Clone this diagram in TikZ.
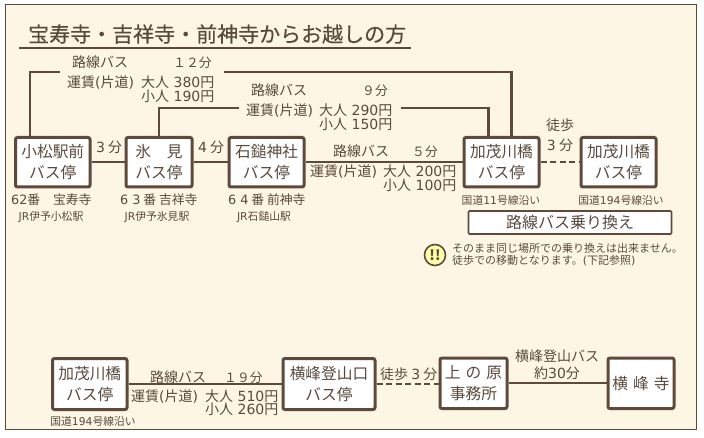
\documentclass[tikz,border=0pt]{standalone}
\usepackage{fontspec}
\setmainfont{Noto Sans CJK JP}
\newfontfamily\lat{DejaVu Sans}
\newfontfamily\titlef[FakeBold=0.35]{Noto Sans CJK JP}
\definecolor{br}{HTML}{5E4A3D}
\definecolor{tx}{HTML}{5A4A3E}
\definecolor{cream}{HTML}{FDF6E4}
\definecolor{warn}{HTML}{FFFFA8}
\newcommand{\yen}[1]{{\lat\ #1}円}
\tikzset{
  stopbox/.style={draw=br,line width=3pt,fill=white,rounded corners=2pt,inner sep=0pt,align=center,text=tx,font=\fontsize{15.7}{20.5}\selectfont},
  lab/.style={text=tx,inner sep=0pt,font=\fontsize{14}{15}\selectfont,anchor=west,text height=11pt,text depth=0pt},
  fare/.style={text=tx,inner sep=0pt,anchor=west,align=left,font=\fontsize{14}{15}\selectfont},
  timelab/.style={lab,font=\fontsize{12.8}{15}\selectfont},
  clab/.style={text=tx,inner sep=0pt,font=\fontsize{14}{15}\selectfont,align=center},
  stat/.style={lab,font=\fontsize{12.8}{14}\selectfont},
  rail/.style={text=tx,inner sep=0pt,font=\fontsize{10.8}{12}\selectfont},
  small/.style={text=tx,inner sep=0pt,font=\fontsize{11}{13}\selectfont},
  link/.style={draw=br,line width=2.2pt},
  walk/.style={draw=br,line width=2.2pt,dash pattern=on 6pt off 3.5pt}
}
\newcommand{\boxat}[7][]{\node[stopbox,minimum width=#5 pt-#3 pt,minimum height=#6 pt-#4 pt,#1] (#2) at ({(#3+#5)/2},{(#4+#6)/2}) {#7};}
\begin{document}
\begin{tikzpicture}[x=1pt,y=-1pt]
\useasboundingbox (0,0) rectangle (704,438);
\fill[white] (0,0) rectangle (704,438);
\draw[draw=br,line width=1pt,fill=cream] (5.5,4.5) rectangle (696,429.5);
% title
\node[lab,text height=18pt,font=\fontsize{21}{24}\titlef\selectfont] (title) at (28,33) {宝寿寺・吉祥寺・前神寺からお越しの方};
\coordinate (ulA) at (19,48); \coordinate (ulB) at (411,48);
\draw[draw=br,line width=1.6pt] (ulA) -- (ulB);
% boxes row 1
\boxat{komatsu}{15.5}{137.5}{90}{187}{小松駅前\\バス停}
\boxat{himi}{126}{137.5}{192}{187}{氷　見\\バス停}
\boxat{ishi}{229}{137.5}{304}{187}{石鎚神社\\バス停}
\boxat{kamoA}{464}{137.5}{539}{187}{加茂川橋\\バス停}
\boxat{kamoB}{581}{137.5}{656}{187}{加茂川橋\\バス停}
% boxes row 2
\boxat{kamoC}{52.5}{358.5}{127}{409.5}{加茂川橋\\バス停}
\boxat{yokoguchi}{283}{358.5}{375}{409.5}{横峰登山口\\バス停}
\boxat{uenohara}{440}{358}{507}{408.5}{上\hspace{5pt}の\hspace{5pt}原\\事務所}
\boxat{yokodera}{608}{358}{674}{408.5}{横\hspace{5pt}峰\hspace{5pt}寺}
% connectors row 1
\coordinate (t1) at (60,72); \coordinate (t2) at (224,72);
\coordinate (m1) at (239,108); \coordinate (m2) at (401,108);
\draw[link] ([xshift=-22.5pt]komatsu.north) |- (t1);
\draw[link] (t2) -| ([xshift=49pt]kamoA.north west);
\draw[link] (himi.north) |- (m1);
\draw[link] (m2) -| ([xshift=26pt]kamoA.north west);
\draw[link] (komatsu.east) -- (himi.west);
\draw[link] (himi.east) -- (ishi.west);
\draw[link] (ishi.east) -- (kamoA.west);
\draw[walk] (kamoA.east) -- (kamoB.west);
% connectors row 2
\draw[link] (kamoC.east) -- (yokoguchi.west);
\draw[walk] (yokoguchi.east) -- (uenohara.west|-yokoguchi.east);
\draw[link] (uenohara.east) -- (yokodera.west);
% labels top
\node[lab] (a1) at (72,62) {路線バス};
\node[timelab] (a2) at (173,62) {１２分};
\node[lab] (a3) at (67,82.5) {運賃{\lat(}片道{\lat)}};
\node[fare] (a4) at (141,89.4) {大人\yen{380}\\[-1.5pt]小人\yen{190}};
\node[lab] (b1) at (251,90) {路線バス};
\node[timelab] (b2) at (362,90) {９分};
\node[lab] (b3) at (246,110) {運賃{\lat(}片道{\lat)}};
\node[fare] (b4) at (319,117.2) {大人\yen{290}\\[-0.5pt]小人\yen{150}};
\node[lab] (c1) at (96,147) {{\lat 3} 分};
\node[lab] (c2) at (198,147) {{\lat 4} 分};
\node[lab] (d1) at (333,151) {路線バス};
\node[timelab] (d2) at (412,151) {５分};
\node[lab] (d3) at (310,171) {運賃{\lat(}片道{\lat)}};
\node[fare] (d4) at (383,178) {大人\yen{200}\\[-1pt]小人\yen{100}};
\node[clab] (w1) at (560,125) {徒歩};
\node[clab] (w2) at (560,145) {{\lat 3} 分};
% under boxes
\node[stat] (s1) at (11,199) {{\lat 62}番　宝寿寺};
\node[stat] (s2) at (120,199) {{\lat 6 3} 番 吉祥寺};
\node[stat] (s3) at (228,199.5) {{\lat 6 4} 番 前神寺};
\node[rail] (r1) at (51,217) {{\lat JR}伊予小松駅};
\node[rail] (r2) at (157,217) {{\lat JR}伊予氷見駅};
\node[rail] (r3) at (264,217) {{\lat JR}石鎚山駅};
\node[small,font=\fontsize{10.8}{13}\selectfont] (k1) at (501,200) {国道{\lat 11}号線沿い};
\node[small,font=\fontsize{10.8}{13}\selectfont] (k2) at (621,200) {国道{\lat 194}号線沿い};
% transfer
\node[draw=br,line width=1.6pt,fill=white,rounded corners=1pt,minimum width=203pt,minimum height=23pt,inner sep=0pt,text=tx,font=\fontsize{16}{18}\selectfont] (norikae) at (570,222.5) {路線バス乗り換え};
% note
\node[circle,draw=br,line width=1.6pt,fill=warn,minimum size=21pt,inner sep=0pt,text=br,font=\fontsize{14}{14}\bfseries\selectfont] (warnicon) at (435,255) {!!};
\node[small,anchor=west] (n1) at (452,248) {そのまま同じ場所での乗り換えは出来ません。};
\node[small,anchor=west] (n2) at (452,261) {徒歩での移動となります。{\lat (}下記参照{\lat )}};
% bottom labels
\node[lab] (e1) at (150,377) {路線バス};
\node[timelab] (e2) at (224,377) {１９分};
\node[lab] (e3) at (131,396) {運賃{\lat(}片道{\lat)}};
\node[fare] (e4) at (205,402.5) {大人\yen{510}\\[-2pt]小人\yen{260}};
\node[small,font=\fontsize{10.8}{13}\selectfont] (k3) at (93,421) {国道{\lat 194}号線沿い};
\node[lab] (f1) at (380,374) {徒歩 {\lat 3} 分};
\node[clab] (g1) at (557,356) {横峰登山バス};
\node[clab] (g2) at (557,373) {約{\lat 30}分};
\end{tikzpicture}
\end{document}
